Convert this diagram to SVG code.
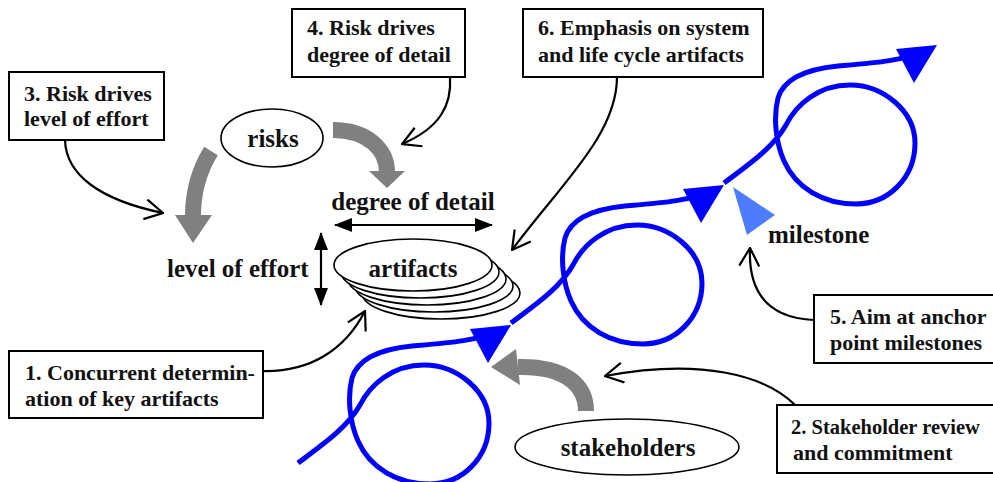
<svg xmlns="http://www.w3.org/2000/svg" xmlns:xlink="http://www.w3.org/1999/xlink" width="993" height="482" viewBox="0 0 993 482">
<style>
.box{fill:#fff;stroke:#000;stroke-width:2}
.t{font-family:"Liberation Serif","Times New Roman",serif;font-weight:bold;fill:#111}
.bt{font-size:22px}
.lt{font-size:25px}
.mid{text-anchor:middle}
.ell{fill:#fff;stroke:#000;stroke-width:1.6}
.thin{fill:none;stroke:#000;stroke-width:2.2;marker-end:url(#open)}
.dbl{fill:none;stroke:#000;stroke-width:2.2;marker-start:url(#solid);marker-end:url(#solid)}
.gray{fill:none;stroke:#808080;stroke-width:16}
.grayhead{fill:#808080}
.blue{fill:none;stroke:#0000ff;stroke-width:5}
.bluehead{fill:#0000ff}
</style>
<defs>
<marker id="open" viewBox="0 0 20 22" refX="19" refY="11" markerWidth="20" markerHeight="22" markerUnits="userSpaceOnUse" orient="auto"><path d="M1,1 L19,11 L1,21" fill="none" stroke="#000" stroke-width="2.2"/></marker>
<marker id="solid" viewBox="0 0 18 14" refX="17" refY="7" markerWidth="18" markerHeight="14" markerUnits="userSpaceOnUse" orient="auto-start-reverse"><path d="M0,0 L18,7 L0,14 Z" fill="#000"/></marker>
<g id="loop">
<path class="blue" d="M-54,40 C-30,22 -5,5 8,-18 C18,-38 40,-58 72,-58 C105,-58 137,-32 137,0 C137,35 110,61 78,61 C45,61 18,45 6,18 C-2,0 -5,-25 0,-45 C6,-65 30,-74 60,-77 C95,-80 125,-82 150,-93"/>
<polygon class="bluehead" points="118,-94 159,-98 136,-60"/>
</g>
</defs>
<rect width="993" height="482" fill="#fff"/>

<g id="connectors">
<path class="thin" d="M65,140 C66,175 100,200 163,213"/>
<path class="thin" d="M450,77 C452,105 440,128 402,144"/>
<path class="thin" d="M617,77 C617,135 560,185 512,250"/>
<path class="thin" d="M263,371 C310,372 345,350 365,311"/>
<path class="thin" d="M795,405 C765,375 700,358 605,376"/>
<path class="thin" d="M814,320 C770,318 748,295 750,248"/>
<path class="gray" d="M333,130 C368,130 387,150 387,172"/>
<polygon class="grayhead" points="369,171 405,171 387,188"/>
<path class="gray" d="M211,151 C198,172 193,192 193,216"/>
<polygon class="grayhead" points="175,215 212,215 193,243"/>
<path class="gray" d="M586,411 C586,385 565,366 518,367"/>
<polygon class="grayhead" points="516,349 491,367 520,385"/>
<path class="dbl" d="M335,225 L492,225"/>
<path class="dbl" d="M321,233 L321,305"/>
<g id="spiral">
<use xlink:href="#loop" href="#loop" transform="translate(352,423)"/>
<use xlink:href="#loop" href="#loop" transform="translate(565,283)"/>
<use xlink:href="#loop" href="#loop" transform="translate(778,143)"/>
</g>
</g>

<g id="box3"><rect class="box" x="9" y="72" width="155" height="68"/><text class="t bt" x="24" y="101">3. Risk drives</text><text class="t bt" x="24" y="126">level of effort</text></g>
<g id="box4"><rect class="box" x="292" y="9" width="173" height="68"/><text class="t bt" x="307" y="35">4. Risk drives</text><text class="t bt" x="307" y="62">degree of detail</text></g>
<g id="box6"><rect class="box" x="523" y="9" width="240" height="68"/><text class="t bt" x="538" y="35">6. Emphasis on system</text><text class="t bt" x="538" y="62">and life cycle artifacts</text></g>
<g id="box1"><rect class="box" x="9" y="351" width="254" height="67"/><text class="t bt" x="25" y="380">1. Concurrent determin-</text><text class="t bt" x="25" y="406">ation of key artifacts</text></g>
<g id="box5"><rect class="box" x="814" y="295" width="200" height="68"/><text class="t bt" x="830" y="324">5. Aim at anchor</text><text class="t bt" x="830" y="350">point milestones</text></g>
<g id="box2"><rect class="box" x="777" y="405" width="240" height="68"/><text class="t" style="font-size:20.5px" x="791" y="434">2. Stakeholder review</text><text class="t bt" x="793" y="460">and commitment</text></g>

<g id="risks"><ellipse class="ell" cx="272" cy="138" rx="51" ry="29"/><text class="t lt mid" x="273" y="147">risks</text></g>
<g id="artifacts">
<ellipse class="ell" cx="441" cy="293" rx="79" ry="26"/>
<ellipse class="ell" cx="434" cy="286" rx="79" ry="26"/>
<ellipse class="ell" cx="427" cy="279" rx="79" ry="26"/>
<ellipse class="ell" cx="420" cy="272" rx="79" ry="26"/>
<ellipse class="ell" cx="413" cy="265" rx="79" ry="26"/>
<text class="t lt mid" x="413" y="277">artifacts</text>
</g>
<g id="stakeholders"><ellipse class="ell" cx="627" cy="447" rx="112" ry="28"/><text class="t lt mid" x="628" y="456">stakeholders</text></g>
<g id="milestone"><polygon points="733,187 775,215 747,235" fill="#4d7cff"/><text class="t lt" x="768" y="243">milestone</text></g>
<g id="degree"><text class="t lt mid" x="413" y="210">degree of detail</text></g>
<g id="effort"><text class="t lt" x="167" y="277">level of effort</text></g>
</svg>
